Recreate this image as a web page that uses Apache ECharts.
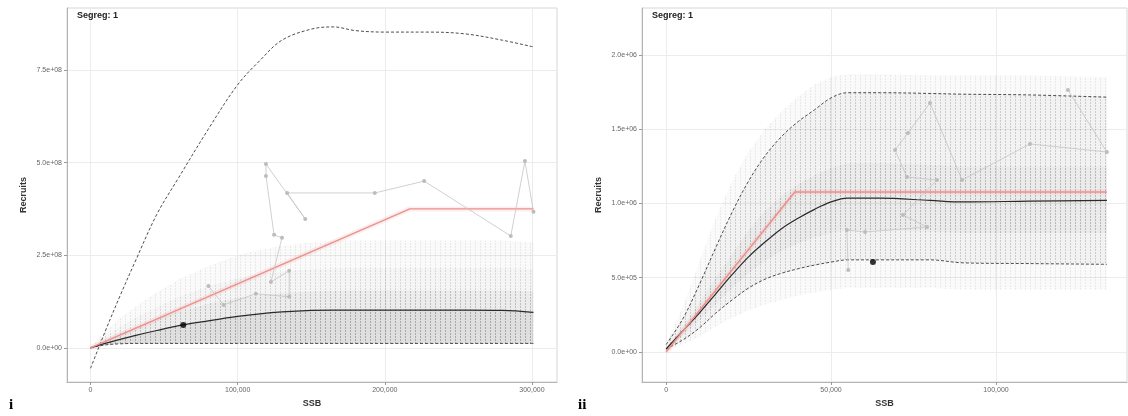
<!DOCTYPE html>
<html>
<head>
<meta charset="utf-8">
<script src="https://cdn.jsdelivr.net/npm/echarts@6/dist/echarts.min.js"></script>
<style>
html,body{margin:0;padding:0;background:#fff;}
#c{width:1128px;height:416px;}
</style>
</head>
<body>
<div id="c"></div>
<script>
// ---------- Panel i data ----------
const ssbGridA = [0, 10000, 20000, 30000, 45000, 60000, 80000, 100000, 115000, 130000, 150000, 165000, 180000, 200000, 230000, 255000, 280000, 301000];
const upperA   = [-0.55e8, 0.45e8, 1.4e8, 2.3e8, 3.6e8, 4.6e8, 5.9e8, 7.1e8, 7.75e8, 8.3e8, 8.6e8, 8.66e8, 8.56e8, 8.52e8, 8.52e8, 8.47e8, 8.3e8, 8.12e8];
const medianA  = [0, 0.12e8, 0.23e8, 0.33e8, 0.47e8, 0.6e8, 0.73e8, 0.85e8, 0.92e8, 0.97e8, 1.01e8, 1.02e8, 1.02e8, 1.02e8, 1.02e8, 1.02e8, 1.01e8, 0.96e8];
const lowerA   = [0, 0.08e8, 0.11e8, 0.12e8, 0.12e8, 0.12e8, 0.12e8, 0.12e8, 0.12e8, 0.12e8, 0.12e8, 0.12e8, 0.12e8, 0.12e8, 0.12e8, 0.12e8, 0.12e8, 0.12e8];
const cloud75A = [0, 0.22e8, 0.4e8, 0.55e8, 0.78e8, 0.98e8, 1.2e8, 1.35e8, 1.42e8, 1.48e8, 1.52e8, 1.54e8, 1.55e8, 1.55e8, 1.55e8, 1.55e8, 1.55e8, 1.52e8];
const cloud83A = [0, 0.32e8, 0.58e8, 0.8e8, 1.1e8, 1.38e8, 1.66e8, 1.88e8, 1.98e8, 2.06e8, 2.12e8, 2.15e8, 2.16e8, 2.16e8, 2.16e8, 2.16e8, 2.16e8, 2.12e8];
const cloud90A = [0, 0.45e8, 0.8e8, 1.1e8, 1.5e8, 1.85e8, 2.2e8, 2.5e8, 2.65e8, 2.75e8, 2.85e8, 2.9e8, 2.9e8, 2.9e8, 2.9e8, 2.9e8, 2.9e8, 2.85e8];
const fitSsbA  = [0, 217000, 301000];
const fitRecA  = [0, 3.75e8, 3.75e8];
const obsSsbA  = [80100, 90400, 112300, 135000, 135000, 122600, 130100, 124700, 119200, 119200, 145900, 133600, 193200, 226700, 285600, 295200, 301000];
const obsRecA  = [1.67e8, 1.16e8, 1.46e8, 1.38e8, 2.08e8, 1.78e8, 2.97e8, 3.05e8, 4.64e8, 4.96e8, 3.48e8, 4.18e8, 4.18e8, 4.50e8, 3.02e8, 5.04e8, 3.67e8];
const lastA    = [63000, 0.62e8];
const xTicksA  = [0, 100000, 200000, 300000];
const yTicksA  = [0, 2.5e8, 5e8, 7.5e8];

// ---------- Panel ii data ----------
const ssbGridB = [0, 5000, 10000, 15000, 20000, 25000, 30000, 35000, 40000, 45000, 50000, 55000, 65000, 80000, 90000, 110000, 133600];
const upperB   = [0.05e6, 0.22e6, 0.45e6, 0.7e6, 0.94e6, 1.15e6, 1.32e6, 1.45e6, 1.55e6, 1.63e6, 1.71e6, 1.745e6, 1.745e6, 1.74e6, 1.735e6, 1.73e6, 1.715e6];
const medianB  = [0.02e6, 0.14e6, 0.26e6, 0.39e6, 0.52e6, 0.64e6, 0.74e6, 0.83e6, 0.9e6, 0.96e6, 1.01e6, 1.035e6, 1.035e6, 1.02e6, 1.01e6, 1.015e6, 1.02e6];
const lowerB   = [0.02e6, 0.08e6, 0.16e6, 0.26e6, 0.35e6, 0.43e6, 0.49e6, 0.53e6, 0.56e6, 0.585e6, 0.605e6, 0.62e6, 0.62e6, 0.62e6, 0.6e6, 0.595e6, 0.59e6];
const q25B     = [0.02e6, 0.11e6, 0.21e6, 0.32e6, 0.43e6, 0.53e6, 0.61e6, 0.68e6, 0.73e6, 0.77e6, 0.8e6, 0.82e6, 0.82e6, 0.81e6, 0.8e6, 0.8e6, 0.8e6];
const q75B     = [0.03e6, 0.17e6, 0.33e6, 0.5e6, 0.66e6, 0.82e6, 0.95e6, 1.05e6, 1.13e6, 1.19e6, 1.24e6, 1.27e6, 1.27e6, 1.26e6, 1.25e6, 1.25e6, 1.25e6];
const outLowB  = [0, 0.05e6, 0.1e6, 0.17e6, 0.23e6, 0.28e6, 0.32e6, 0.35e6, 0.38e6, 0.4e6, 0.42e6, 0.43e6, 0.43e6, 0.43e6, 0.42e6, 0.42e6, 0.42e6];
const outHighB = [0.06e6, 0.3e6, 0.6e6, 0.9e6, 1.15e6, 1.35e6, 1.5e6, 1.62e6, 1.72e6, 1.8e6, 1.85e6, 1.87e6, 1.87e6, 1.86e6, 1.86e6, 1.86e6, 1.85e6];
const fitSsbB  = [0, 39000, 133600];
const fitRecB  = [0, 1.077e6, 1.077e6];
const obsSsbB  = [55200, 54800, 60300, 79100, 71800, 82100, 73000, 69400, 73300, 80000, 89700, 110300, 133600, 121800];
const obsRecB  = [0.552e6, 0.821e6, 0.808e6, 0.841e6, 0.922e6, 1.157e6, 1.178e6, 1.359e6, 1.474e6, 1.676e6, 1.157e6, 1.40e6, 1.346e6, 1.763e6];
const lastB    = [62700, 0.606e6];
const xTicksB  = [0, 50000, 100000];
const yTicksB  = [0, 5e5, 1e6, 1.5e6, 2e6];

// ---------- helpers ----------
function pairs(xs, ys){ return xs.map((x,i)=>[x, ys[i]]); }
function sci(v){
  if (v === 0) return '0.0e+00';
  const s = v.toExponential(1).split('e');
  let e = s[1]; const sign = e[0]; let d = e.slice(1); if (d.length < 2) d = '0' + d;
  return s[0] + 'e' + sign + d;
}
function comma(v){ return v.toLocaleString('en-US'); }
function pattern(bgA, lnA, step){
  const c = document.createElement('canvas');
  c.width = step; c.height = 3;
  const g = c.getContext('2d');
  g.fillStyle = 'rgba(110,110,110,' + bgA + ')';
  g.fillRect(0,0,step,3);
  g.fillStyle = 'rgba(70,70,70,' + lnA + ')';
  g.fillRect(0,0,1,2);
  return {image: c, repeat: 'repeat'};
}
function band(xi, xs, lo, hi, fill, z){
  return {
    type:'custom', xAxisIndex:xi, yAxisIndex:xi, z:z, silent:true, clip:true,
    data:[[xs[0], lo[0]]],
    renderItem:function(p, api){
      const pts = [];
      for (let i=0;i<xs.length;i++) pts.push(api.coord([xs[i], hi[i]]));
      for (let i=xs.length-1;i>=0;i--) pts.push(api.coord([xs[i], lo[i]]));
      return {type:'polygon', shape:{points:pts, smooth:0}, style:{fill:fill, stroke:null}};
    }
  };
}
function qline(xi, xs, ys, dashed, z){
  return {type:'line', xAxisIndex:xi, yAxisIndex:xi, z:z, silent:true, showSymbol:false,
    smooth:0.35, data:pairs(xs, ys),
    lineStyle:{color: dashed ? '#3a3a3a' : '#2a2a2a', width: dashed ? 0.9 : 1.2, type: dashed ? [3,2] : 'solid'}};
}
function fit(xi, xs, ys){
  return [
    {type:'line', xAxisIndex:xi, yAxisIndex:xi, z:5, silent:true, showSymbol:false, data:pairs(xs, ys),
      lineStyle:{color:'rgba(240,140,140,0.14)', width:5}},
    {type:'line', xAxisIndex:xi, yAxisIndex:xi, z:7, silent:true, showSymbol:false, data:pairs(xs, ys),
      lineStyle:{color:'#ee8f89', width:1.4}}
  ];
}
function obs(xi, xs, ys, last){
  return [
    {type:'line', xAxisIndex:xi, yAxisIndex:xi, z:8, silent:true, data:pairs(xs, ys),
      symbol:'circle', symbolSize:4, showSymbol:true,
      itemStyle:{color:'#bcbcbc', borderWidth:0}, lineStyle:{color:'#c4c4c4', width:0.8}},
    {type:'scatter', xAxisIndex:xi, yAxisIndex:xi, z:9, silent:true, data:[last],
      symbol:'circle', symbolSize:6, itemStyle:{color:'#000'}}
  ];
}
function xAx(gi, min, max, ticks){
  return {type:'value', gridIndex:gi, min:min, max:max, name:'SSB', nameLocation:'middle', nameGap:17,
    nameTextStyle:{fontFamily:'Liberation Sans', fontSize:9, fontWeight:'bold', color:'#333'},
    axisLine:{show:true, onZero:false, lineStyle:{color:'#b3b3b3', width:1}},
    axisTick:{show:true, length:3, customValues:ticks, lineStyle:{color:'#999'}},
    axisLabel:{customValues:ticks, formatter:comma, fontFamily:'Liberation Sans', fontSize:7, color:'#666', margin:5},
    splitLine:{show:true, lineStyle:{color:'#ececec', width:1}}};
}
function yAx(gi, min, max, ticks){
  return {type:'value', gridIndex:gi, min:min, max:max, name:'Recruits', nameLocation:'middle', nameGap:39, nameRotate:90,
    nameTextStyle:{fontFamily:'Liberation Sans', fontSize:9, fontWeight:'bold', color:'#333'},
    axisLine:{show:true, onZero:false, lineStyle:{color:'#b3b3b3', width:1}},
    axisTick:{show:true, length:3, customValues:ticks, lineStyle:{color:'#999'}},
    axisLabel:{customValues:ticks, formatter:sci, fontFamily:'Liberation Sans', fontSize:7, color:'#666', margin:5},
    splitLine:{show:true, lineStyle:{color:'#ececec', width:1}}};
}

const chart = echarts.init(document.getElementById('c'), null, {renderer:'canvas'});
const pDense = pattern(0.22, 0.35, 5);
const pMidA  = pattern(0.13, 0.28, 5);
const pLowA  = pattern(0.07, 0.16, 5);
const pFaint = pattern(0.035, 0.09, 5);
const pMidB  = pattern(0.09, 0.22, 5);
const pInB   = pattern(0.05, 0.12, 5);

const series = [
  band(0, ssbGridA, lowerA, medianA, pDense, 1),
  band(0, ssbGridA, medianA, cloud75A, pMidA, 1),
  band(0, ssbGridA, cloud75A, cloud83A, pLowA, 1),
  band(0, ssbGridA, cloud83A, cloud90A, pFaint, 1),
  qline(0, ssbGridA, upperA, true, 4),
  qline(0, ssbGridA, lowerA, true, 4),
  qline(0, ssbGridA, medianA, false, 6),
  ...fit(0, fitSsbA, fitRecA),
  ...obs(0, obsSsbA, obsRecA, lastA),

  band(1, ssbGridB, outLowB, lowerB, pFaint, 1),
  band(1, ssbGridB, upperB, outHighB, pFaint, 1),
  band(1, ssbGridB, lowerB, upperB, pMidB, 1),
  band(1, ssbGridB, q25B, q75B, pInB, 2),
  qline(1, ssbGridB, upperB, true, 4),
  qline(1, ssbGridB, lowerB, true, 4),
  qline(1, ssbGridB, medianB, false, 6),
  ...fit(1, fitSsbB, fitRecB),
  ...obs(1, obsSsbB, obsRecB, lastB)
];

chart.setOption({
  animation:false,
  backgroundColor:'#fff',
  grid:[
    {left:67, top:8, width:490, height:374, show:true, borderColor:'#d6d6d6', borderWidth:1, backgroundColor:'#fff'},
    {left:642, top:8, width:485, height:374, show:true, borderColor:'#d6d6d6', borderWidth:1, backgroundColor:'#fff'}
  ],
  xAxis:[ xAx(0, -16000, 317000, xTicksA), xAx(1, -7300, 139700, xTicksB) ],
  yAxis:[ yAx(0, -0.92e8, 9.17e8, yTicksA), yAx(1, -0.202e6, 2.315e6, yTicksB) ],
  graphic:[
    {type:'text', left:77, top:11, z:100, style:{text:'Segreg: 1', font:'bold 9px "Liberation Sans"', fill:'#222'}},
    {type:'text', left:652, top:11, z:100, style:{text:'Segreg: 1', font:'bold 9px "Liberation Sans"', fill:'#222'}},
    {type:'text', left:9, top:398, z:100, style:{text:'i', font:'bold 15px "Liberation Serif"', fill:'#000'}},
    {type:'text', left:578, top:398, z:100, style:{text:'ii', font:'bold 15px "Liberation Serif"', fill:'#000'}}
  ],
  series:series
});
</script>
</body>
</html>
